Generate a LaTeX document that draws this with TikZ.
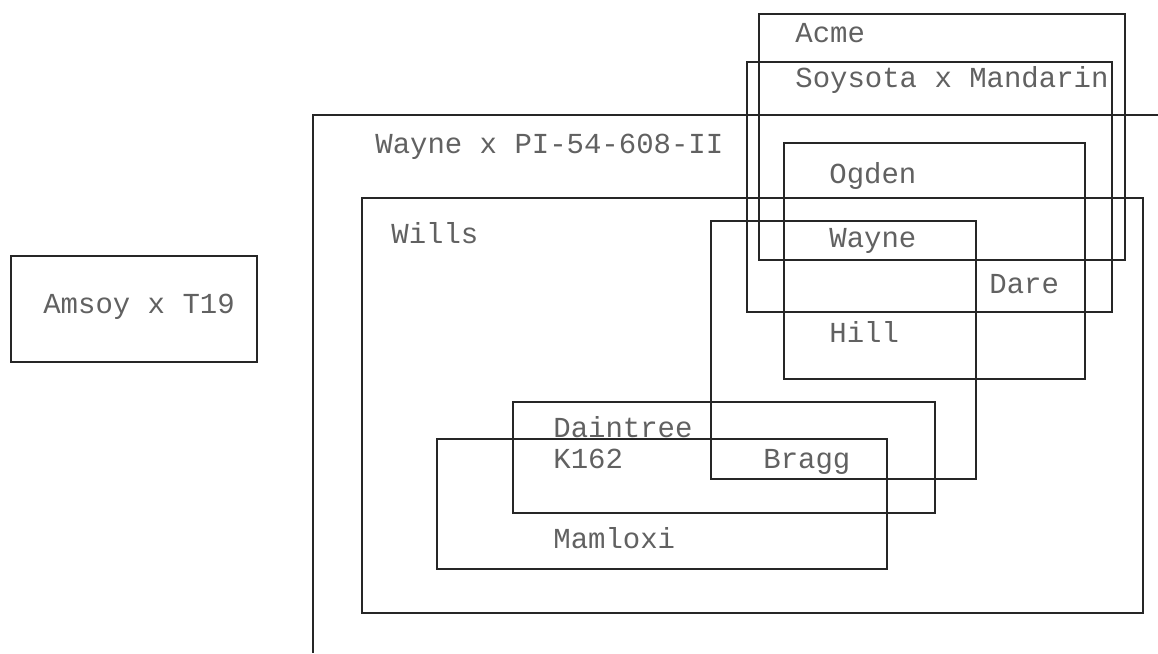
\documentclass[tikz,border=0pt]{standalone}
\usepackage{fontspec}
\setmonofont{Liberation Mono}
\tikzset{
  box/.style={draw=black!85, line width=1.35pt},
  lbl/.style={anchor=base west, inner sep=0pt,
    font=\ttfamily\fontsize{16.5}{18}\selectfont, text=black!62},
}
\begin{document}
\begin{tikzpicture}[x=0.02cm,y=-0.02cm]
\useasboundingbox (0,0) rectangle (1158,653);

% outer box, runs off the page
\draw[box] (1158,115) -- (313,115) -- (313,653);
\node[lbl] (waynepi) at (375,153) {Wayne x PI-54-608-II};

\draw[box] (11,256) rectangle (257,362);
\node[lbl] (amsoy) at (43,313) {Amsoy x T19};

\draw[box] (362,198) rectangle (1143,613);
\node[lbl] (wills) at (391,243) {Wills};

\draw[box] (759,14) rectangle (1125,260);
\node[lbl] (acme) at (795,42) {Acme};

\draw[box] (747,62) rectangle (1112,312);
\node[lbl] (soysota) at (795,87) {Soysota x Mandarin};

\draw[box] (784,143) rectangle (1085,379);
\node[lbl] (ogden) at (829,183) {Ogden};
\node[lbl] (hill) at (829,342) {Hill};
\node[lbl] (dare) at (989,293) {Dare};

\draw[box] (711,221) rectangle (976,479);
\node[lbl] (wayne) at (829,247) {Wayne};
\node[lbl] (bragg) at (763,468) {Bragg};

\draw[box] (513,402) rectangle (935,513);
\node[lbl] (daintree) at (553,437) {Daintree};
\node[lbl] (k162) at (553,468) {K162};

\draw[box] (437,439) rectangle (887,569);
\node[lbl] (mamloxi) at (553,548) {Mamloxi};
\end{tikzpicture}
\end{document}
